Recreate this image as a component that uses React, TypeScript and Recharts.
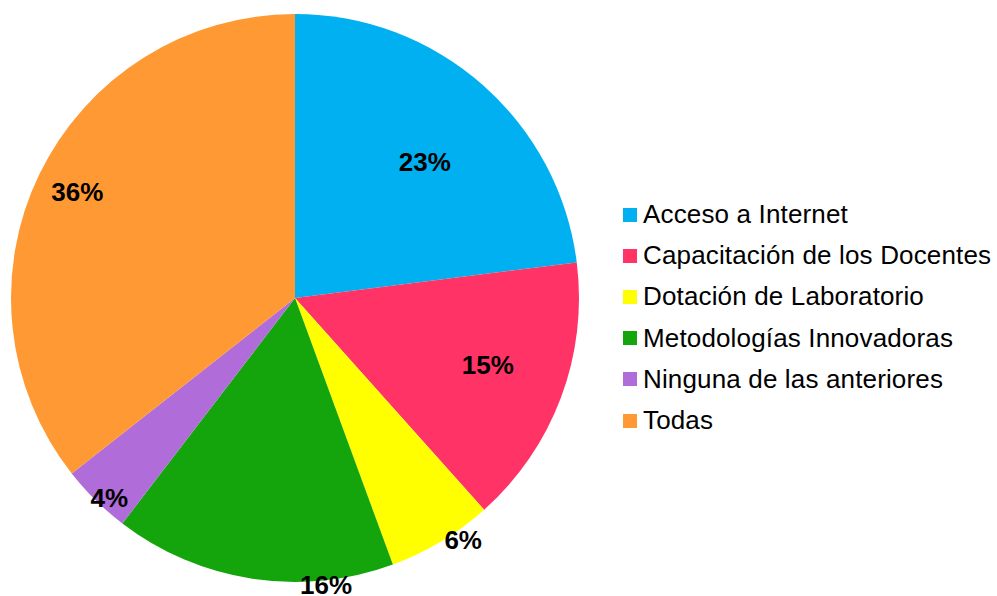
import { PieChart, Pie, Cell, Legend } from 'recharts'

const categories = [
  'Acceso a Internet',
  'Capacitación de los Docentes',
  'Dotación de Laboratorio',
  'Metodologías Innovadoras',
  'Ninguna de las anteriores',
  'Todas',
]
const values = [23, 15.4, 6, 16, 4, 35.6]
const colors = ['#00B0F0', '#FF3366', '#FFFF00', '#13A50B', '#B06CD8', '#FF9933']

// label placement: distance from centre and angle nudge off the slice middle (best-fit style)
const labelRadius = [188, 204, 295, 289, 273, 242]
const labelNudge = [-2.3, 1.4, 3.8, 14.8, 1.8, 0]

const data = categories.map((name, i) => ({ name, value: values[i] }))

const RADIAN = Math.PI / 180
const FONT = '"Liberation Sans", Arial, sans-serif'

function renderLabel(props: any) {
  const { cx, cy, midAngle, percent, index } = props
  const r = labelRadius[index]
  const a = (midAngle + labelNudge[index]) * RADIAN
  const x = cx + r * Math.cos(-a)
  const y = cy + r * Math.sin(-a)
  return (
    <text
      x={x}
      y={y}
      textAnchor="middle"
      dominantBaseline="central"
      fill="#000"
      fontSize={26}
      fontWeight="bold"
      fontFamily={FONT}
    >
      {Math.round(percent * 100)}%
    </text>
  )
}

function LegendBox() {
  return (
    <div style={{ fontFamily: FONT, fontSize: 26, letterSpacing: 0.15, color: '#000' }}>
      {categories.map((c, i) => (
        <div key={c} style={{ display: 'flex', alignItems: 'center', height: 41.2, whiteSpace: 'nowrap' }}>
          <span style={{ width: 14, height: 14, background: colors[i], marginRight: 6, display: 'inline-block' }} />
          <span>{c}</span>
        </div>
      ))}
    </div>
  )
}

export default function App() {
  // pinned to the page corner so the body margin plays no part
  return (
    <div style={{ position: 'absolute', top: 0, left: 0, width: 997, height: 596, overflow: 'hidden', background: '#fff' }}>
      <PieChart width={997} height={596} margin={{ top: 0, right: 0, bottom: 0, left: 0 }}>
        <Pie
          data={data}
          dataKey="value"
          nameKey="name"
          cx={295}
          cy={298}
          outerRadius={284}
          startAngle={90}
          endAngle={-270}
          stroke="none"
          label={renderLabel}
          labelLine={false}
          isAnimationActive={false}
        >
          {data.map((d, i) => (
            <Cell key={d.name} fill={colors[i]} />
          ))}
        </Pie>
        <Legend
          layout="vertical"
          content={() => <LegendBox />}
          wrapperStyle={{ position: 'absolute', left: 623, top: 194, width: 372 }}
        />
      </PieChart>
    </div>
  )
}
